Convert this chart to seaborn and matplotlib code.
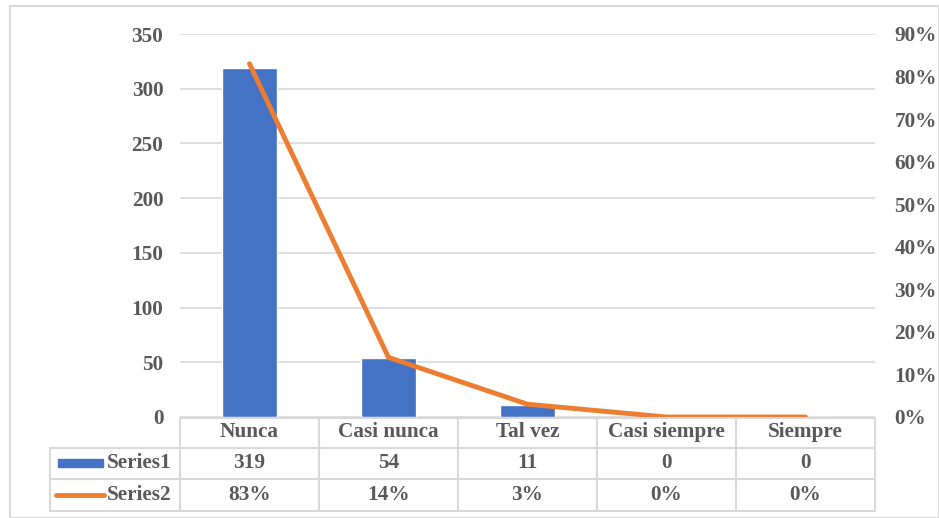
import numpy as np
import matplotlib
matplotlib.use("Agg")
import matplotlib.pyplot as plt
import seaborn as sns
from matplotlib.patches import Rectangle
from matplotlib.lines import Line2D

# Datos
categorias = ["Nunca", "Casi nunca", "Tal vez", "Casi siempre", "Siempre"]
serie1 = [319, 54, 11, 0, 0]
serie2 = [0.83, 0.14, 0.03, 0.0, 0.0]
serie1_txt = ["319", "54", "11", "0", "0"]
serie2_txt = ["83%", "14%", "3%", "0%", "0%"]
ticks_izq = [0, 50, 100, 150, 200, 250, 300, 350]
ticks_der = [0.0, 0.1, 0.2, 0.3, 0.4, 0.5, 0.6, 0.7, 0.8, 0.9]

AZUL = "#4472C4"
NARANJA = "#ED7D31"
GRIS = "#D9D9D9"
TEXTO = "#595959"
FS = 15.3

sns.set_theme(style="white")
plt.rcParams["font.family"] = ["Liberation Serif", "DejaVu Serif"]
plt.rcParams["font.weight"] = "bold"

W, H = 939, 518
fig = plt.figure(figsize=(W / 100, H / 100), dpi=100)

def px(x0, y0, x1, y1):
    # rect en pixeles -> fracciones de figura
    return [x0 / W, 1 - y1 / H, (x1 - x0) / W, (y1 - y0) / H]

# borde exterior
fig.patches.append(Rectangle((10 / W, 0), (W - 10) / W, 1 - 6 / H, transform=fig.transFigure,
                             fill=False, edgecolor=GRIS, lw=1.5))

ax = fig.add_axes(px(180, 34, 875, 417))
sns.barplot(x=categorias, y=serie1, color=AZUL, width=0.4, saturation=1, ax=ax, zorder=3)
ax.set_ylim(0, 350)
ax.set_yticks(ticks_izq)
ax.set_yticklabels([str(t) for t in ticks_izq], color=TEXTO, fontsize=FS, fontweight="bold")
ax.tick_params(axis="y", length=0, pad=12)
ax.set_xticks([])
ax.set_xlabel("")
ax.grid(axis="y", color=GRIS, lw=1.2, zorder=0)
ax.set_axisbelow(True)
for s in ax.spines.values():
    s.set_visible(False)

ax2 = ax.twinx()
sns.lineplot(x=list(range(len(categorias))), y=serie2, color=NARANJA, lw=3.5, ax=ax2,
             sort=False, zorder=4)
ax2.set_ylim(0, 0.9)
ax2.set_yticks(ticks_der)
ax2.set_yticklabels([f"{int(round(t * 100))}%" for t in ticks_der], color=TEXTO,
                    fontsize=FS, fontweight="bold")
ax2.tick_params(axis="y", length=0, pad=14)
ax2.set_ylabel("")
ax2.grid(False)
for s in ax2.spines.values():
    s.set_visible(False)
ax.set_xlim(-0.5, len(categorias) - 0.5)
ax2.set_xlim(-0.5, len(categorias) - 0.5)

# tabla de datos
tx = fig.add_axes(px(50, 418, 875, 511))
tx.set_xlim(50, 875)
tx.set_ylim(511, 418)
tx.axis("off")
cols = np.linspace(180, 875, len(categorias) + 1)
filas = [418, 448, 479, 511]
kw = dict(color=GRIS, lw=1.5, clip_on=False)
tx.add_line(Line2D([180, 875], [filas[0]] * 2, **kw))
for yv in filas[1:]:
    tx.add_line(Line2D([50, 875], [yv] * 2, **kw))
tx.add_line(Line2D([50, 50], [filas[1], filas[3]], **kw))
for xv in cols:
    tx.add_line(Line2D([xv, xv], [filas[0], filas[3]], **kw))

centros = (cols[:-1] + cols[1:]) / 2
tkw = dict(ha="center", va="center", color=TEXTO, fontsize=FS, fontweight="bold")
for i, c in enumerate(categorias):
    tx.text(centros[i], 432, c, **tkw)
    tx.text(centros[i], 463, serie1_txt[i], **tkw)
    tx.text(centros[i], 495, serie2_txt[i], **tkw)

tx.add_patch(Rectangle((58, 459), 45, 8, color=AZUL, clip_on=False))
tx.add_line(Line2D([56, 104], [495, 495], color=NARANJA, lw=3.5, solid_capstyle="round"))
tx.text(107, 463, "Series1", ha="left", va="center", color=TEXTO, fontsize=FS, fontweight="bold")
tx.text(107, 495, "Series2", ha="left", va="center", color=TEXTO, fontsize=FS, fontweight="bold")

fig.savefig("out.png", dpi=100)
